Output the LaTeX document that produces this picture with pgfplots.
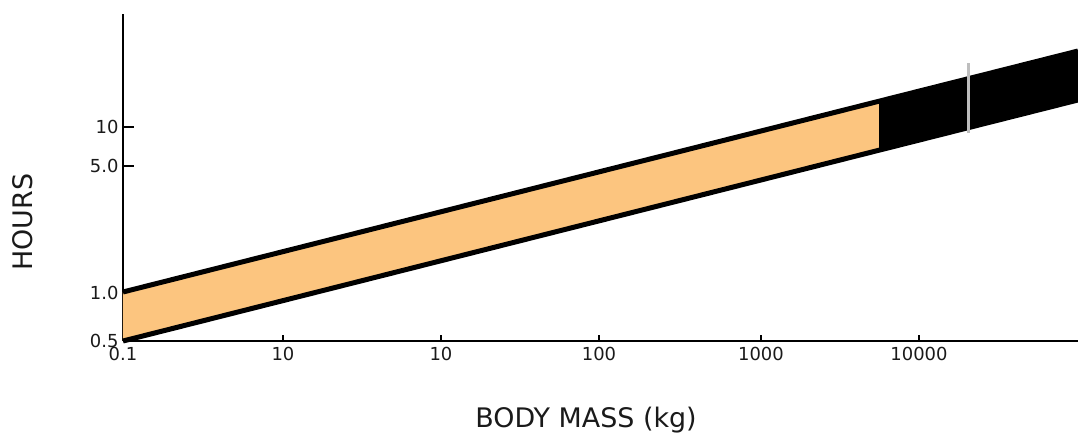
\documentclass[border=0pt]{standalone}
\usepackage{fontspec}
\setmainfont{DejaVu Sans}
\usepackage{pgfplots}
\pgfplotsset{compat=1.18}
\definecolor{bandorange}{HTML}{FCC57F}
\definecolor{labelgray}{HTML}{1A1A1A}
\begin{document}
\begin{tikzpicture}
\path[use as bounding box] (-123bp,-94bp) rectangle (955bp,341bp);
\begin{axis}[
  at={(0,0)}, anchor=south west,
  x=1bp, y=1bp,
  xmin=0, xmax=955, ymin=0, ymax=327,
  axis lines=left,
  axis line style={-, line width=1.8bp, black},
  clip=false,
  xtick={0,160,318,476,638,796},
  xticklabels={0.1,10,10,100,1000,10000},
  ytick={0,48,175,214},
  yticklabels={0.5,1.0,5.0,10},
  tick align=inside,
  xtick style={line width=1.3bp, black, /pgfplots/major tick length=6bp},
  ytick style={line width=1.3bp, black, /pgfplots/major tick length=11bp},
  /pgf/number format/assume math mode=true,
  ticklabel style={font=\fontsize{18}{18}\selectfont, text=labelgray},
  xticklabel style={yshift=-3bp},
  yticklabel style={xshift=-1bp},
]
\addplot[draw=none, fill=bandorange] coordinates {(0,0) (756,191) (756,240) (0,49)} -- cycle;
\addplot[draw=none, fill=black] coordinates {(756,191) (955,241) (955,290) (756,240)} -- cycle;
\addplot[black, line width=5bp] coordinates {(0,49) (955,290)};
\addplot[black, line width=5bp] coordinates {(0,0) (955,241)};
\addplot[color={rgb,255:red,190;green,190;blue,190}, line width=3bp] coordinates {(845,208) (845,278)};
\node[anchor=base, font=\fontsize{27}{28}\selectfont, text=labelgray] at (axis cs:463,-86) {BODY MASS (kg)};
\node[anchor=base, rotate=90, font=\fontsize{27}{28}\selectfont, text=labelgray] at (axis cs:-90,119) {HOURS};
\end{axis}
\end{tikzpicture}
\end{document}
